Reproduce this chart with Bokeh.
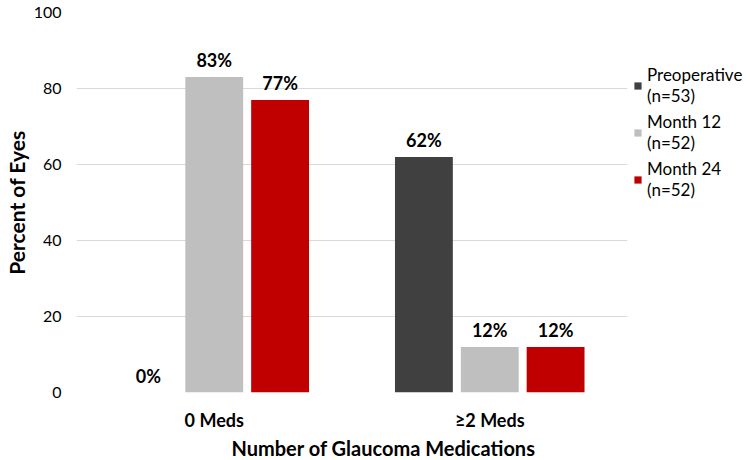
from bokeh.plotting import figure
from bokeh.models import (ColumnDataSource, FactorRange, Range1d, LabelSet, Legend,
                          LegendItem, Title, FixedTicker)
from bokeh.transform import dodge
from bokeh.embed import file_html
from bokeh.resources import INLINE
from bokeh.core.properties import value

categories = ["0 Meds", "≥2 Meds"]
preop = [0, 62]
month12 = [83, 12]
month24 = [77, 12]
series_names = ["Preoperative\n(n=53)", "Month 12\n(n=52)", "Month 24\n(n=52)"]
colors = ["#404040", "#bfbfbf", "#c00000"]
y_ticks = [0, 20, 40, 60, 80, 100]
x_title = "Number of Glaucoma Medications"
y_title = "Percent of Eyes"

FONT = "Lato"

src = ColumnDataSource(dict(
    cat=categories,
    preop=preop, m12=month12, m24=month24,
    preop_l=[f"{v}%" for v in preop],
    m12_l=[f"{v}%" for v in month12],
    m24_l=[f"{v}%" for v in month24],
))

p = figure(x_range=FactorRange(*categories, range_padding=0),
           y_range=Range1d(0, 100), output_backend="svg", toolbar_location=None,
           frame_width=551, frame_height=380,
           min_border_left=66, min_border_top=12, min_border_bottom=60, min_border_right=117)
p.outline_line_color = None

offsets = [-0.239, 0.0, 0.239]
keys = ["preop", "m12", "m24"]
renderers = []
for k, off, c in zip(keys, offsets, colors):
    r = p.vbar(x=dodge("cat", off, range=p.x_range), top=k, width=0.21, source=src,
               fill_color=c, line_color=None)
    renderers.append(r)
    lbl = LabelSet(x=dodge("cat", off, range=p.x_range), y=k, text=k + "_l", source=src,
                   text_align="center", text_baseline="bottom", y_offset=6,
                   text_font=value(FONT), text_font_style="bold", text_font_size="18px",
                   text_color="#000000")
    p.add_layout(lbl)

legend = Legend(items=[LegendItem(label=n, renderers=[r]) for n, r in zip(series_names, renderers)],
                label_text_font=FONT, label_text_font_size="17px", label_text_color="#000000",
                label_text_line_height=1.35,
                glyph_width=9, glyph_height=9, label_standoff=5, spacing=5, padding=0,
                margin=0, border_line_color=None, background_fill_alpha=0,
                location=(6, 192), label_height=20)
p.add_layout(legend, "right")

p.ygrid.grid_line_color = "#d9d9d9"
p.ygrid.grid_line_width = 1
p.xgrid.grid_line_color = None
p.yaxis.ticker = FixedTicker(ticks=y_ticks)
p.yaxis.axis_line_color = None
p.yaxis.major_tick_line_color = None
p.yaxis.minor_tick_line_color = None
p.yaxis.major_label_text_font = FONT
p.yaxis.major_label_text_font_size = "16px"
p.yaxis.major_label_text_color = "#000000"
p.yaxis.major_label_standoff = 9
p.yaxis.axis_label = y_title
p.yaxis.axis_label_text_font = FONT
p.yaxis.axis_label_text_font_style = "bold"
p.yaxis.axis_label_text_font_size = "21px"
p.yaxis.axis_label_text_color = "#000000"
p.yaxis.axis_label_standoff = 2

p.xaxis.axis_line_color = None
p.xaxis.major_tick_line_color = None
p.xaxis.minor_tick_line_color = None
p.xaxis.major_label_text_font = FONT
p.xaxis.major_label_text_font_style = "bold"
p.xaxis.major_label_text_font_size = "18px"
p.xaxis.major_label_text_color = "#000000"
p.xaxis.major_label_standoff = 10

xt = Title(text=x_title, align="left", offset=155, text_font=FONT, text_font_style="bold",
           text_font_size="20px", text_color="#000000", standoff=0)
p.add_layout(xt, "below")

open("out.html", "w").write(file_html(p, INLINE))
